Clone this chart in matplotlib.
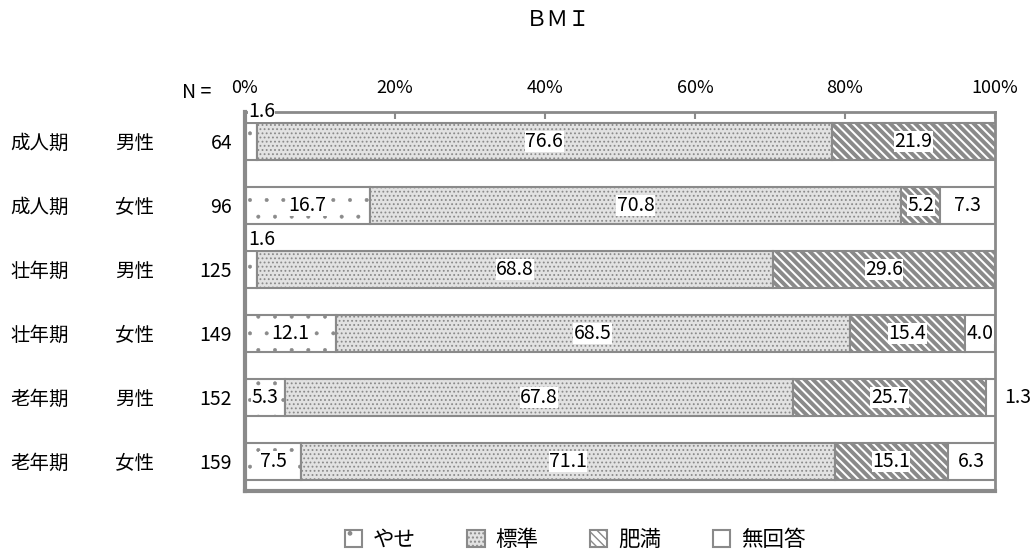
import matplotlib
matplotlib.use('Agg')
import matplotlib.pyplot as plt
import matplotlib.transforms as mtransforms
from matplotlib.patches import Patch

plt.rcParams['font.family'] = ['Noto Sans CJK JP', 'DejaVu Sans']
plt.rcParams['hatch.linewidth'] = 1.0

# data
groups = ['成人期', '成人期', '壮年期', '壮年期', '老年期', '老年期']
sexes = ['男性', '女性', '男性', '女性', '男性', '女性']
counts = [64, 96, 125, 149, 152, 159]
categories = ['やせ', '標準', '肥満', '無回答']
yase = [1.6, 16.7, 1.6, 12.1, 5.3, 7.5]
hyojun = [76.6, 70.8, 68.8, 68.5, 67.8, 71.1]
himan = [21.9, 5.2, 29.6, 15.4, 25.7, 15.1]
mukaito = [0.0, 7.3, 0.0, 4.0, 1.3, 6.3]
xticks = [0, 20, 40, 60, 80, 100]

series = [yase, hyojun, himan, mukaito]
faces = ['white', '#e2e2e2', 'white', 'white']
hatches = ['.', '....', '\\\\\\\\', None]
hatch_lw = [0.4, 0.8, 2.8, 1.0]
edge = '#8a8a8a'

fig = plt.figure(figsize=(10.34, 5.51), dpi=100)
ax = fig.add_axes([0.2369, 0.1089, 0.7254, 0.6878])

rows = list(range(len(counts)))
h = 0.57
lab_fs = 14
left = [0.0] * len(rows)
for k, vals in enumerate(series):
    with plt.rc_context({'hatch.linewidth': hatch_lw[k]}):
        ax.barh(rows, vals, left=left, height=h, color=faces[k],
                edgecolor=edge, linewidth=1.5, hatch=hatches[k],
                label=categories[k])
    for i, v in enumerate(vals):
        if v <= 0:
            continue
        if v < 2 and k == 0:
            ax.text(left[i] + 0.4, i - h / 2 - 0.02, f'{v:.1f}', ha='left',
                    va='bottom', fontsize=lab_fs,
                    bbox=dict(facecolor='white', edgecolor='none', pad=0.3))
        elif v < 2 and k == 3:
            ax.text(101.2, i, f'{v:.1f}', ha='left', va='center',
                    fontsize=lab_fs, clip_on=False)
        else:
            ax.text(left[i] + v / 2, i, f'{v:.1f}', ha='center', va='center',
                    fontsize=lab_fs,
                    bbox=dict(facecolor='white', edgecolor='none', pad=0.3))
    left = [a + b for a, b in zip(left, vals)]

ax.set_xlim(0, 100)
ax.set_ylim(5.46, -0.46)
ax.set_yticks([])
ax.xaxis.tick_top()
ax.set_xticks(xticks)
ax.set_xticklabels([f'{t}%' for t in xticks], fontsize=13)
ax.tick_params(axis='x', direction='in', length=5, width=1.5, color=edge,
               pad=11)
for s in ['top', 'right']:
    ax.spines[s].set_color(edge)
    ax.spines[s].set_linewidth(2)
for s in ['left', 'bottom']:
    ax.spines[s].set_color(edge)
    ax.spines[s].set_linewidth(3)

trans = mtransforms.blended_transform_factory(fig.transFigure, ax.transData)
for i in rows:
    fig.text(0.0097, i + 0.03, groups[i], transform=trans, ha='left',
             va='center', fontsize=14)
    fig.text(0.111, i + 0.03, sexes[i], transform=trans, ha='left',
             va='center', fontsize=14)
    fig.text(0.2244, i + 0.03, str(counts[i]), transform=trans, ha='right',
             va='center', fontsize=14)

fig.text(0.19, 1 - 93 / 551, 'N =', ha='center', va='center', fontsize=14)
fig.text(558 / 1034, 1 - 20 / 551, 'ＢＭＩ', ha='center', va='center',
         fontsize=15.5)

handles = []
for k in range(4):
    handles.append(Patch(facecolor=faces[k], edgecolor=edge, hatch=hatches[k],
                         linewidth=1.5, label=categories[k]))
fig.legend(handles=handles, loc='center', bbox_to_anchor=(575 / 1034, 1 - 540 / 551),
           ncol=4, frameon=False, fontsize=15.5, handlelength=0.8,
           handleheight=0.8, handletextpad=0.5, columnspacing=2.4)

fig.savefig('out.png', dpi=100)
